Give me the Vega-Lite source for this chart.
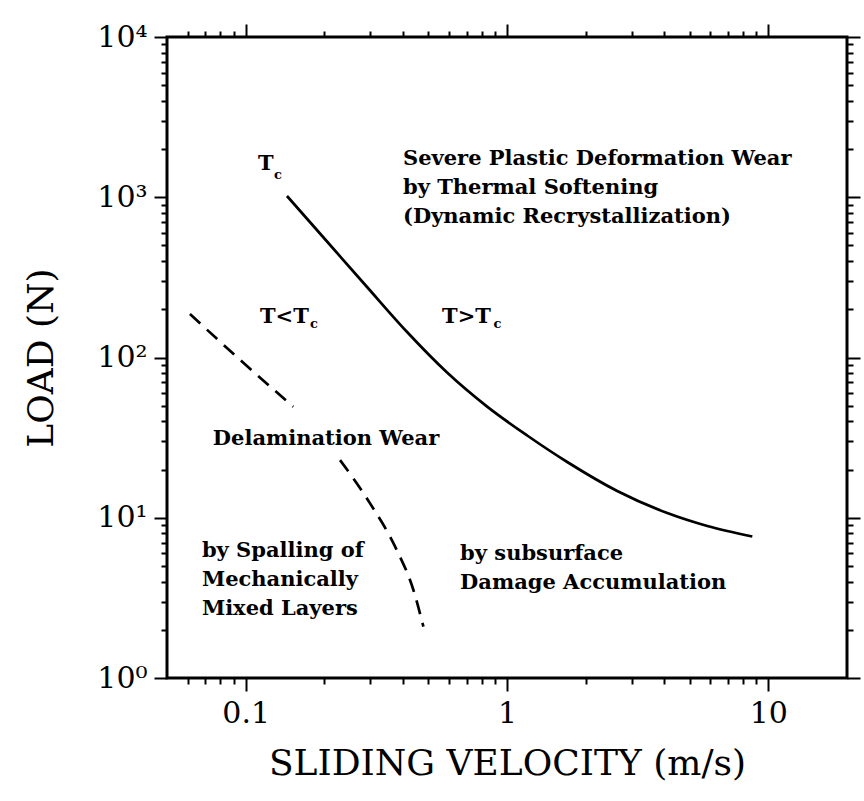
{
  "$schema": "https://vega.github.io/schema/vega-lite/v6.json",
  "width": 680,
  "height": 641,
  "autosize": {"type": "none"},
  "padding": {"left": 167, "top": 37, "right": 17, "bottom": 123},
  "background": "white",
  "config": {
    "view": {"stroke": "black", "strokeWidth": 3},
    "axis": {"grid": false, "domain": false, "ticks": true, "tickColor": "black", "tickWidth": 2}
  },
  "datasets": {
    "solid": [
      {"v": 0.1439, "load": 1018},
      {"v": 0.2048, "load": 529.5},
      {"v": 0.2914, "load": 275.4},
      {"v": 0.4147, "load": 144.2},
      {"v": 0.5898, "load": 80.6},
      {"v": 0.8395, "load": 49.4},
      {"v": 1.1946, "load": 32.6},
      {"v": 1.7, "load": 22.28},
      {"v": 2.641, "load": 14.69},
      {"v": 4.105, "load": 10.7},
      {"v": 5.842, "load": 8.882},
      {"v": 8.685, "load": 7.638}
    ],
    "dashed": [
      {"seg": "a", "v": 0.0612, "load": 186.9},
      {"seg": "a", "v": 0.0924, "load": 101},
      {"seg": "a", "v": 0.1521, "load": 49.3},
      {"seg": "b", "v": 0.2297, "load": 22.9},
      {"seg": "b", "v": 0.2992, "load": 12.3},
      {"seg": "b", "v": 0.3786, "load": 6.29},
      {"seg": "b", "v": 0.4384, "load": 3.54},
      {"seg": "b", "v": 0.4787, "load": 2.09}
    ],
    "labels": [
      {"v": 0.1115, "load": 1479, "label": "T"},
      {"v": 0.4, "load": 1589, "label": "Severe Plastic Deformation Wear"},
      {"v": 0.4, "load": 1048, "label": "by Thermal Softening"},
      {"v": 0.4, "load": 690, "label": "(Dynamic Recrystallization)"},
      {"v": 0.1134, "load": 164, "label": "T<T"},
      {"v": 0.564, "load": 164, "label": "T>T"},
      {"v": 0.0749, "load": 28.4, "label": "Delamination Wear"},
      {"v": 0.068, "load": 5.69, "label": "by Spalling of"},
      {"v": 0.068, "load": 3.75, "label": "Mechanically"},
      {"v": 0.068, "load": 2.47, "label": "Mixed Layers"},
      {"v": 0.6616, "load": 5.45, "label": "by subsurface"},
      {"v": 0.6616, "load": 3.59, "label": "Damage Accumulation"}
    ],
    "subs": [
      {"v": 0.1283, "load": 1300, "label": "c"},
      {"v": 0.1762, "load": 152.8, "label": "c"},
      {"v": 0.887, "load": 152.8, "label": "c"}
    ]
  },
  "layer": [
    {
      "data": {"name": "solid"},
      "mark": {"type": "line", "color": "black", "strokeWidth": 2.7, "interpolate": "monotone"},
      "encoding": {
        "x": {
          "field": "v", "type": "quantitative",
          "scale": {"type": "log", "domain": [0.05, 20], "nice": false},
          "axis": {
            "orient": "bottom", "values": [0.1, 1, 10], "format": "~g",
            "tickSize": 13, "labelPadding": 7,
            "labelFont": "DejaVu Serif", "labelFontSize": 30, "labelColor": "black",
            "title": "SLIDING VELOCITY (m/s)", "titleFont": "DejaVu Serif", "titleFontSize": 36,
            "titleFontWeight": "normal", "titleColor": "black", "titlePadding": 18
          }
        },
        "y": {
          "field": "load", "type": "quantitative",
          "scale": {"type": "log", "domain": [1, 10000], "nice": false},
          "axis": {
            "orient": "left", "values": [1, 10, 100, 1000, 10000],
            "labelExpr": "'10' + (datum.value < 5 ? '⁰' : datum.value < 50 ? '¹' : datum.value < 500 ? '²' : datum.value < 5000 ? '³' : '⁴')",
            "tickSize": 13, "labelPadding": 7,
            "labelFont": "DejaVu Serif", "labelFontSize": 30, "labelColor": "black",
            "title": "LOAD (N)", "titleFont": "DejaVu Serif", "titleFontSize": 36,
            "titleFontWeight": "normal", "titleColor": "black", "titlePadding": 36
          }
        }
      }
    },
    {
      "data": {"name": "dashed"},
      "mark": {"type": "line", "color": "black", "strokeWidth": 2.7, "strokeDash": [14, 9], "interpolate": "monotone"},
      "encoding": {
        "x": {
          "field": "v", "type": "quantitative",
          "scale": {"type": "log", "domain": [0.05, 20], "nice": false},
          "axis": {
            "orient": "bottom",
            "values": [0.06, 0.07, 0.08, 0.09, 0.2, 0.3, 0.4, 0.5, 0.6, 0.7, 0.8, 0.9, 2, 3, 4, 5, 6, 7, 8, 9],
            "tickSize": 6, "labels": false, "title": null
          }
        },
        "y": {
          "field": "load", "type": "quantitative",
          "scale": {"type": "log", "domain": [1, 10000], "nice": false},
          "axis": {
            "orient": "left",
            "values": [2, 3, 4, 5, 6, 7, 8, 9, 20, 30, 40, 50, 60, 70, 80, 90, 200, 300, 400, 500, 600, 700, 800, 900, 2000, 3000, 4000, 5000, 6000, 7000, 8000, 9000],
            "tickSize": 6, "labels": false, "title": null
          }
        },
        "detail": {"field": "seg"}
      }
    },
    {
      "data": {"name": "labels"},
      "mark": {"type": "text", "font": "DejaVu Serif", "fontWeight": "bold", "fontSize": 21, "align": "left", "baseline": "alphabetic", "color": "black"},
      "encoding": {
        "x": {
          "field": "v", "type": "quantitative",
          "scale": {"type": "log", "domain": [0.05, 20], "nice": false},
          "axis": {"orient": "top", "values": [0.1, 1, 10], "tickSize": 13, "labels": false, "title": null}
        },
        "y": {
          "field": "load", "type": "quantitative",
          "scale": {"type": "log", "domain": [1, 10000], "nice": false},
          "axis": {"orient": "right", "values": [1, 10, 100, 1000, 10000], "tickSize": 13, "labels": false, "title": null}
        },
        "text": {"field": "label"}
      }
    },
    {
      "data": {"name": "subs"},
      "mark": {"type": "text", "font": "DejaVu Serif", "fontWeight": "bold", "fontSize": 13, "align": "left", "baseline": "alphabetic", "color": "black"},
      "encoding": {
        "x": {
          "field": "v", "type": "quantitative",
          "scale": {"type": "log", "domain": [0.05, 20], "nice": false},
          "axis": {
            "orient": "top",
            "values": [0.06, 0.07, 0.08, 0.09, 0.2, 0.3, 0.4, 0.5, 0.6, 0.7, 0.8, 0.9, 2, 3, 4, 5, 6, 7, 8, 9],
            "tickSize": 6, "labels": false, "title": null
          }
        },
        "y": {
          "field": "load", "type": "quantitative",
          "scale": {"type": "log", "domain": [1, 10000], "nice": false},
          "axis": {
            "orient": "right",
            "values": [2, 3, 4, 5, 6, 7, 8, 9, 20, 30, 40, 50, 60, 70, 80, 90, 200, 300, 400, 500, 600, 700, 800, 900, 2000, 3000, 4000, 5000, 6000, 7000, 8000, 9000],
            "tickSize": 6, "labels": false, "title": null
          }
        },
        "text": {"field": "label"}
      }
    }
  ],
  "resolve": {"axis": {"x": "independent", "y": "independent"}}
}
